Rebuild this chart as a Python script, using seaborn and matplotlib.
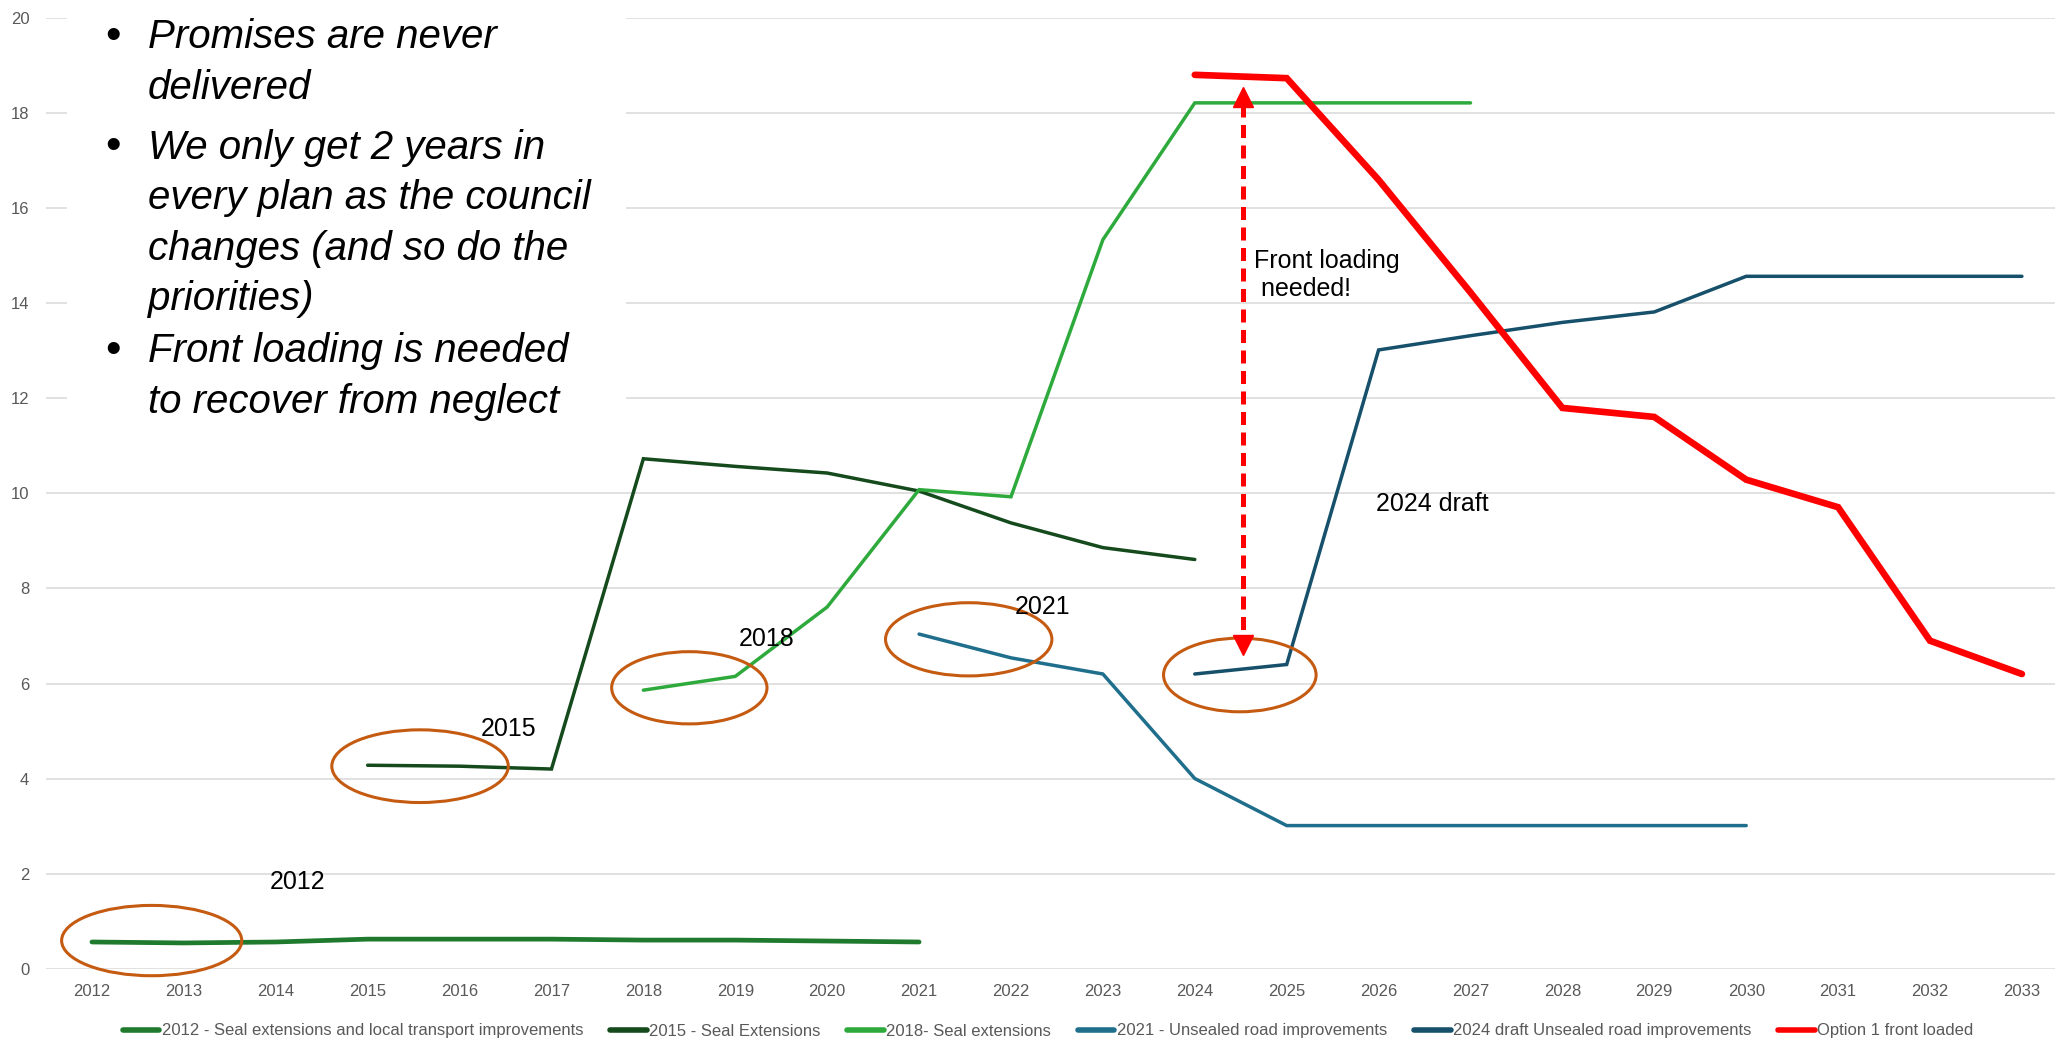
import pandas as pd
import matplotlib
matplotlib.use('Agg')
import matplotlib.pyplot as plt
from matplotlib.patches import Ellipse, Rectangle
from matplotlib.lines import Line2D
import seaborn as sns

# ---- data ----
years_2012 = list(range(2012, 2022))
vals_2012 = [0.56, 0.54, 0.56, 0.62, 0.62, 0.62, 0.60, 0.60, 0.58, 0.56]

years_2015 = list(range(2015, 2025))
vals_2015 = [4.28, 4.26, 4.20, 10.73, 10.57, 10.43, 10.05, 9.38, 8.86, 8.61]

years_2018 = list(range(2018, 2028))
vals_2018 = [5.86, 6.15, 7.61, 10.08, 9.93, 15.34, 18.22, 18.22, 18.22, 18.22]

years_2021 = list(range(2021, 2031))
vals_2021 = [7.04, 6.54, 6.20, 4.00, 3.01, 3.01, 3.01, 3.01, 3.01, 3.01]

years_2024 = list(range(2024, 2034))
vals_2024 = [6.20, 6.40, 13.02, 13.32, 13.60, 13.82, 14.57, 14.57, 14.57, 14.57]

years_opt1 = list(range(2024, 2034))
vals_opt1 = [18.81, 18.74, 16.60, 14.23, 11.80, 11.61, 10.29, 9.71, 6.90, 6.20]

names = ['2012 - Seal extensions and local transport improvements',
         '2015 - Seal Extensions',
         '2018- Seal extensions',
         '2021 - Unsealed road improvements',
         '2024 draft Unsealed road improvements',
         'Option 1 front loaded']
colors = ['#1f7a2e', '#154a1c', '#2eaa3c', '#1f6e8c', '#16506b', '#ff0000']
widths = [3.4, 2.5, 2.5, 2.5, 2.5, 4.8]

frames = []
for name, xs, ys in zip(names,
                        [years_2012, years_2015, years_2018, years_2021, years_2024, years_opt1],
                        [vals_2012, vals_2015, vals_2018, vals_2021, vals_2024, vals_opt1]):
    frames.append(pd.DataFrame({'year': xs, 'value': ys, 'plan': name}))
df = pd.concat(frames, ignore_index=True)

sns.set_theme(style='white')
plt.rcParams['font.family'] = ['Liberation Sans', 'DejaVu Sans']

fig = plt.figure(figsize=(20.55, 10.43), dpi=100)
ax = fig.add_axes([46 / 2055, 1 - 968.6 / 1043, 1 - 46 / 2055, (968.6 - 18.3) / 1043])

sns.lineplot(data=df, x='year', y='value', hue='plan', size='plan',
             hue_order=names, palette=dict(zip(names, colors)),
             sizes=dict(zip(names, widths)), legend=False, ax=ax,
             solid_capstyle='round', solid_joinstyle='miter')

ax.set_xlim(2011.5, 2033.36)
ax.set_ylim(0, 20)
ax.set_xticks(range(2012, 2034))
ax.set_xticklabels([str(y) for y in range(2012, 2034)])
ax.set_yticks(range(0, 21, 2))
ax.tick_params(axis='both', length=0, labelsize=12, labelcolor='#595959')
ax.tick_params(axis='y', pad=12)
ax.tick_params(axis='x', pad=11)
ax.set_xlabel('')
ax.set_ylabel('')
ax.grid(axis='y', color='#d9d9d9', linewidth=1.1)
ax.set_axisbelow(True)
for s in ax.spines.values():
    s.set_visible(False)

# circles around the first years of each plan
ring = '#c55a11'
for cx, cy, w, h in [(2012.65, 0.59, 1.96, 1.48), (2015.57, 4.26, 1.92, 1.53),
                     (2018.50, 5.91, 1.69, 1.52), (2021.54, 6.93, 1.81, 1.54),
                     (2024.49, 6.18, 1.66, 1.55)]:
    ax.add_patch(Ellipse((cx, cy), w, h, fill=False, edgecolor=ring, lw=2.2,
                         zorder=4, clip_on=False))

for txt, x, y in [('2012', 2014.24, 1.83), ('2015', 2016.53, 5.05), ('2018', 2019.34, 6.93),
                  ('2021', 2022.34, 7.62), ('2024 draft', 2026.58, 9.77)]:
    ax.text(x, y, txt, fontsize=18, ha='center', va='center', color='black', zorder=5)

ax.text(2024.64, 14.6, 'Front loading\n needed!', fontsize=18, ha='left', va='center',
        linespacing=1.25, color='black', zorder=5)

# dashed double arrow
ax.plot([2024.52, 2024.52], [18.2, 6.9], color='#ff0000', lw=3.6,
        ls=(0, (2.6, 1.5)), zorder=5)
ax.plot(2024.52, 18.34, marker='^', ms=14, color='#ff0000', zorder=5)
ax.plot(2024.52, 6.80, marker='v', ms=14, color='#ff0000', zorder=5)

# text box with bullet points
fig.add_artist(Rectangle((67 / 2055, 1 - 446 / 1043), (626 - 67) / 2055, 446 / 1043,
                         transform=fig.transFigure, facecolor='white',
                         edgecolor='none', zorder=1))
bullet_lines = [('Promises are never', True, 37), ('delivered', False, 88),
                ('We only get 2 years in', True, 148), ('every plan as the council', False, 198),
                ('changes (and so do the', False, 249), ('priorities)', False, 299),
                ('Front loading is needed', True, 351), ('to recover from neglect', False, 402)]
for line, has_bullet, ypx in bullet_lines:
    fig.text(148 / 2055, 1 - ypx / 1043, line, fontsize=29, style='italic',
             ha='left', va='center', color='black', zorder=2)
    if has_bullet:
        fig.text(113 / 2055, 1 - ypx / 1043, '\u2022', fontsize=32,
                 ha='center', va='center', color='black', zorder=2)

handles = [Line2D([0], [0], color=c, lw=4, solid_capstyle='round') for c in colors]
fig.legend(handles, names, loc='center', bbox_to_anchor=(0.51, 1 - 1031 / 1043),
           ncol=6, frameon=False, handlelength=2.2, handletextpad=0.15,
           columnspacing=1.6, labelcolor='#595959', prop={'size': 12})

fig.savefig('out.png', dpi=100)
